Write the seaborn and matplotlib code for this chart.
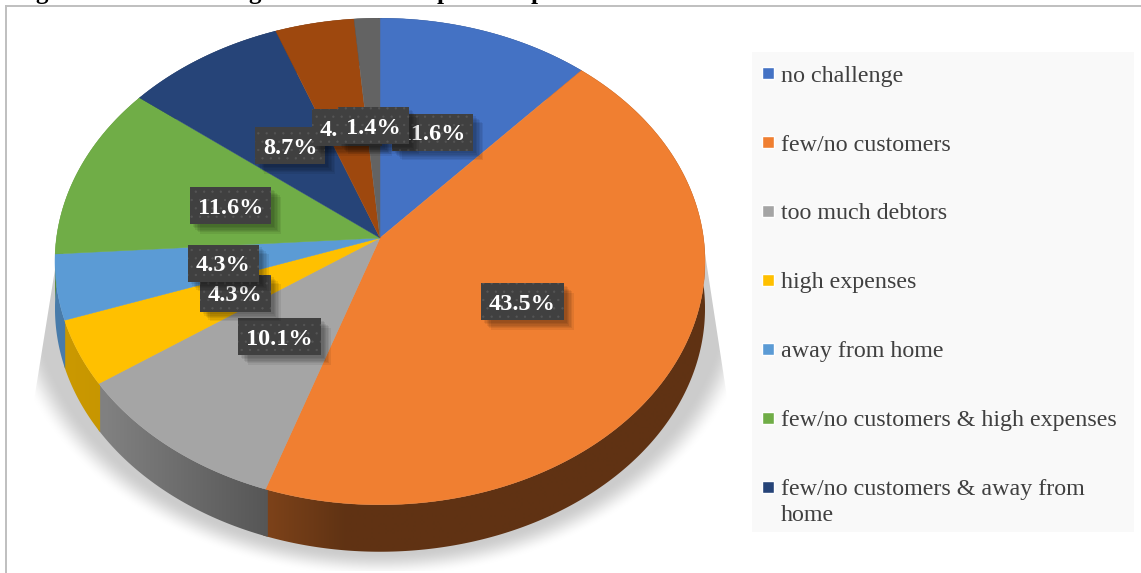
import numpy as np
import matplotlib
matplotlib.use("Agg")
import matplotlib.pyplot as plt
import matplotlib.patheffects as pe
from matplotlib.patches import Polygon, Rectangle
from matplotlib.path import Path
import seaborn as sns

# Share of respondents per reported challenge, clockwise from twelve o'clock
categories = ["no challenge", "few/no customers", "too much debtors", "high expenses",
              "away from home", "few/no customers & high expenses",
              "few/no customers & away from\nhome", "high expenses & away from home",
              "other"]
shares = [11.6, 43.5, 10.1, 4.3, 4.3, 11.6, 8.7, 4.3, 1.4]
legend_count = 7

palette = sns.color_palette(["#4472C4", "#F07F31", "#A5A5A5", "#FFC000", "#5B9BD5",
                             "#70AD47", "#264478", "#9E480E", "#636363"])

# Label box centres on the canvas (px), in the same order as the shares
label_x = [432.5, 522.5, 279.5, 235.5, 223.5, 230.5, 290, 347, 373.5]
label_y = [134.5, 304, 339, 295.5, 265.5, 208, 148, 130, 128]

# Canvas geometry (px)
W, H = 1141, 573
CX, CY = 380, 238           # pie hub
SX, SY, TILT = 323.5, 241.0, 0.0965   # perspective of the tilted disc
DEPTH = 47

sns.set_theme(style="white")
plt.rcParams["font.family"] = ["Liberation Serif", "DejaVu Serif"]
plt.rcParams["hatch.linewidth"] = 0.4

fig = plt.figure(figsize=(W / 100, H / 100), dpi=100, facecolor="white")
ax = fig.add_axes([6 / W, 0, 1 - 6 / W, (H - 6) / H])

wedges, _ = ax.pie(shares, colors=palette, startangle=90, counterclock=False)
ax.set_aspect("auto")
ax.set_frame_on(True)
ax.set_xticks([])
ax.set_yticks([])
ax.set_facecolor("white")
sns.despine(ax=ax, top=False, left=False, right=True, bottom=True)
for side in ("top", "left"):
    ax.spines[side].set_color("#BFBFBF")
    ax.spines[side].set_linewidth(1.4)
    ax.spines[side].set_zorder(30)


def project(theta_deg, radius=1.0):
    """Map polar angles of the flat pie to the tilted disc on the canvas."""
    t = np.radians(theta_deg)
    x, y = radius * np.cos(t), radius * np.sin(t)
    w = 1 + TILT * y
    return CX + SX * x / w, CY - SY * y / w


def wall_shade(x):
    return np.interp(x, [55, 105, 268, 345, 705], [0.80, 0.78, 0.52, 0.40, 0.40])


class BoxShadow(pe.AbstractPathEffect):
    """Plain offset shadow that leaves the box texture out."""

    def __init__(self, offset, alpha):
        super().__init__(offset)
        self.alpha = alpha

    def draw_path(self, renderer, gc, tpath, affine, rgbFace):
        gc0 = renderer.new_gc()
        gc0.copy_properties(gc)
        gc0.set_hatch(None)
        gc0.set_alpha(self.alpha)
        gc0.set_linewidth(0)
        gc0.set_foreground("none")
        renderer.draw_path(gc0, tpath, affine + self._offset_transform(renderer), (0, 0, 0))
        gc0.restore()


def label_box(x0, y0, width, height, mutation_size):
    """Square box around a label, nudged up so the digits sit mid-box."""
    pad_x, pad_y, lift = 8.0, 8.0, 2.5
    a, b = x0 - pad_x, x0 + width + pad_x
    c, d = y0 - pad_y + lift, y0 + height + pad_y + lift
    return Path([(a, c), (b, c), (b, d), (a, d), (a, c)], closed=True)


# Soft floor shadow under the disc
yy, xx = np.mgrid[0:H, 0:W]
r = np.hypot((xx + 0.5 - CX) / 378, (yy + 0.5 - 285) / 292)
fade = np.clip((1.0 - r) / 0.085, 0, 1)
fade = fade * fade * (3 - 2 * fade)
left_edge = 57 - (yy - 250) * 24 / 150
right_edge = 703 + (yy - 240) * 23 / 150
mask = np.clip(xx - left_edge, 0, 1) * np.clip(right_edge - xx, 0, 1) * (yy > 235) * (yy < 571)
rgba = np.ones((H, W, 4))
rgba[..., :3] = 0.80
rgba[..., 3] = fade * mask
ax.imshow(rgba, extent=(0, W, H, 0), aspect="auto", zorder=0, interpolation="bilinear")

# Disc: shaded side walls first, then the top faces
for w, color in zip(wedges, palette):
    lo, hi = sorted((w.theta1, w.theta2))
    angles = np.linspace(lo - 0.4, hi + 0.4, max(int((hi - lo) * 2), 3))
    px, py = project(angles)
    band = list(zip(px, py)) + list(zip(px[::-1], py[::-1] + DEPTH))
    clip = Polygon(band, closed=True, fc="none", ec="none", transform=ax.transData)
    ax.add_patch(clip)
    x0, x1 = px.min(), px.max()
    columns = np.linspace(x0, x1, max(int(x1 - x0), 2))
    ramp = wall_shade(columns)[None, :, None] * np.array(color)[None, None, :]
    img = ax.imshow(ramp, extent=(x0, x1, py.max() + DEPTH, py.min()), aspect="auto",
                    zorder=2, interpolation="bilinear")
    img.set_clip_path(clip)

for w, color in zip(wedges, palette):
    lo, hi = sorted((w.theta1, w.theta2))
    angles = np.linspace(lo, hi, max(int((hi - lo) * 2), 3))
    px, py = project(angles)
    verts = [(CX, CY)] + list(zip(px, py))
    ax.add_patch(Polygon(verts, closed=True, fc=color, ec=color, lw=0.3, zorder=3))
    w.remove()

ax.set_xlim(6, W)
ax.set_ylim(H, 6)

# Value labels on dark boxes
for i, (v, x, y) in enumerate(zip(shares, label_x, label_y)):
    t = ax.text(x, y, f"{v:.1f}%", color="white", fontsize=17.5, fontweight="bold",
                ha="center", va="center", zorder=5 + i,
                bbox=dict(boxstyle=label_box, fc="#404040", ec="#565656",
                          lw=0, hatch=".."))
    t.get_bbox_patch().set_path_effects(
        [BoxShadow((o, -o), 0.07) for o in (7, 6, 5, 4, 3, 2)] + [pe.Normal()])

# Legend on a pale panel
ax.add_patch(Rectangle((752, 52), 382, 480, fc="#F9F9F9", ec="none", zorder=19))
leg = ax.legend(wedges[:legend_count], categories[:legend_count],
                loc="upper left", borderaxespad=0,
                bbox_to_anchor=(751.5 / W, (H - 55) / H),
                bbox_transform=fig.transFigure,
                frameon=False, fontsize=17.27, labelcolor="#404040",
                labelspacing=2.0, handlelength=0.5, handleheight=0.395,
                handletextpad=0.27, borderpad=0.44)
leg.set_zorder(20)
for text in leg.get_texts():
    text.set_linespacing(1.28)
leg.legend_handles[-1].set_y(leg.legend_handles[-1].get_y() + 11)

# Heading line of the page above the frame, cut off by the canvas edge
for letter, x in zip("ggpp", (35, 248, 437, 531)):
    ax.text(x, -1, letter, fontsize=18, fontweight="bold", color="black",
            va="baseline", ha="left", clip_on=False)

fig.savefig("out.png", dpi=100)
